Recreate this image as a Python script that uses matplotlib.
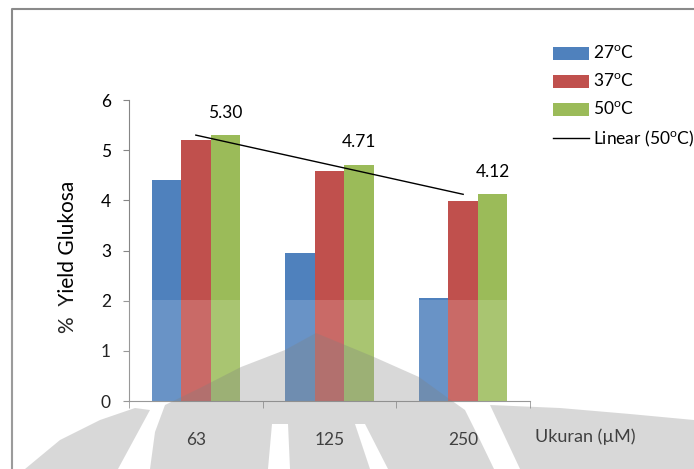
import numpy as np
import matplotlib
matplotlib.use("Agg")
import matplotlib.pyplot as plt
from matplotlib.patches import Polygon, Rectangle
from matplotlib.lines import Line2D

plt.rcParams['font.family'] = ['Lato', 'DejaVu Sans']
plt.rcParams['mathtext.fontset'] = 'custom'
plt.rcParams['mathtext.rm'] = 'Lato'

# data
sizes = ['63', '125', '250']
series_names = [r'27$^{\rm o}$C', r'37$^{\rm o}$C', r'50$^{\rm o}$C']
yield_27 = [4.40, 2.95, 2.06]
yield_37 = [5.20, 4.59, 3.98]
yield_50 = [5.30, 4.71, 4.12]
colors = ['#4F81BD', '#C0504D', '#9BBB59']

W, H = 694, 469
fig = plt.figure(figsize=(W / 100, H / 100), dpi=100)
ax = fig.add_axes([129 / W, 1 - 401 / H, 401 / W, 301 / H])

x = np.arange(len(sizes))
w = 0.22
handles = []
for k, (vals, c, name) in enumerate(zip([yield_27, yield_37, yield_50], colors, series_names)):
    b = ax.bar(x + (k - 1) * w, vals, width=w, color=c, label=name, zorder=2)
    handles.append(b)

# linear trendline on 50C series
coef = np.polyfit(x, yield_50, 1)
line, = ax.plot(x[[0, -1]], np.polyval(coef, x[[0, -1]]), color='black', lw=1,
                label=r'Linear (50$^{\rm o}$C)', zorder=3)
handles.append(line)

for xi, v in zip(x, yield_50):
    ax.annotate(f'{v:.2f}', (xi + w, v), xytext=(0, 16), textcoords='offset points',
                ha='center', va='center', fontsize=12.5)

ax.set_xlim(-0.5, 2.5)
ax.set_ylim(0, 6)
ax.set_yticks(range(7))
ax.set_xticks(x)
ax.set_xticklabels(sizes)
ax.set_xticks(np.arange(-0.5, 3, 1), minor=True)
ax.tick_params(axis='x', which='major', length=0, pad=22, labelsize=12.5)
ax.tick_params(axis='x', which='minor', length=5, color='#868686', direction='out')
ax.tick_params(axis='y', length=4, color='#868686', pad=9, labelsize=12.5)
for s in ['top', 'right']:
    ax.spines[s].set_visible(False)
for s in ['left', 'bottom']:
    ax.spines[s].set_color('#868686')

fig.text(68 / W, 1 - 257 / H, '%  Yield Glukosa', rotation=90, ha='center', va='center', fontsize=15)
fig.text(535 / W, 1 - 437 / H, 'Ukuran (\u00b5M)', ha='left', va='center', fontsize=13)

ax.legend(handles=handles, loc='upper left', bbox_to_anchor=(553 / W, 1 - 45 / H),
          bbox_transform=fig.transFigure, frameon=False, fontsize=12.5, borderpad=0,
          borderaxespad=0, handlelength=2.1, handleheight=0.8, handletextpad=0.2,
          labelspacing=0.62)

# outer frame
fig.add_artist(Line2D([12 / W, 12 / W, 1.0], [0, 1 - 9 / H, 1 - 9 / H], color='#8a8a8a', lw=1.5))

# faded watermark
def px(pts):
    return [(a / W, 1 - b / H) for a, b in pts]

fig.add_artist(Rectangle((0, 0), 1, 1 - 300 / H, color='white', alpha=0.15, lw=0, zorder=5))
shapes = [
    [(25, 469), (60, 440), (100, 420), (135, 408), (150, 410), (118, 469)],
    [(150, 469), (155, 432), (165, 405), (200, 388), (241, 367), (285, 350), (316, 333),
     (374, 357), (419, 377), (448, 398), (465, 410), (480, 440), (494, 469), (388, 469),
     (365, 424), (355, 424), (370, 469), (290, 469), (288, 424), (272, 424), (268, 469)],
    [(490, 405), (560, 408), (630, 414), (694, 420), (694, 469), (520, 469)],
]
for s in shapes:
    fig.add_artist(Polygon(px(s), closed=True, color='#808080', alpha=0.3, lw=0, zorder=6))

fig.savefig('out.png', dpi=100)
